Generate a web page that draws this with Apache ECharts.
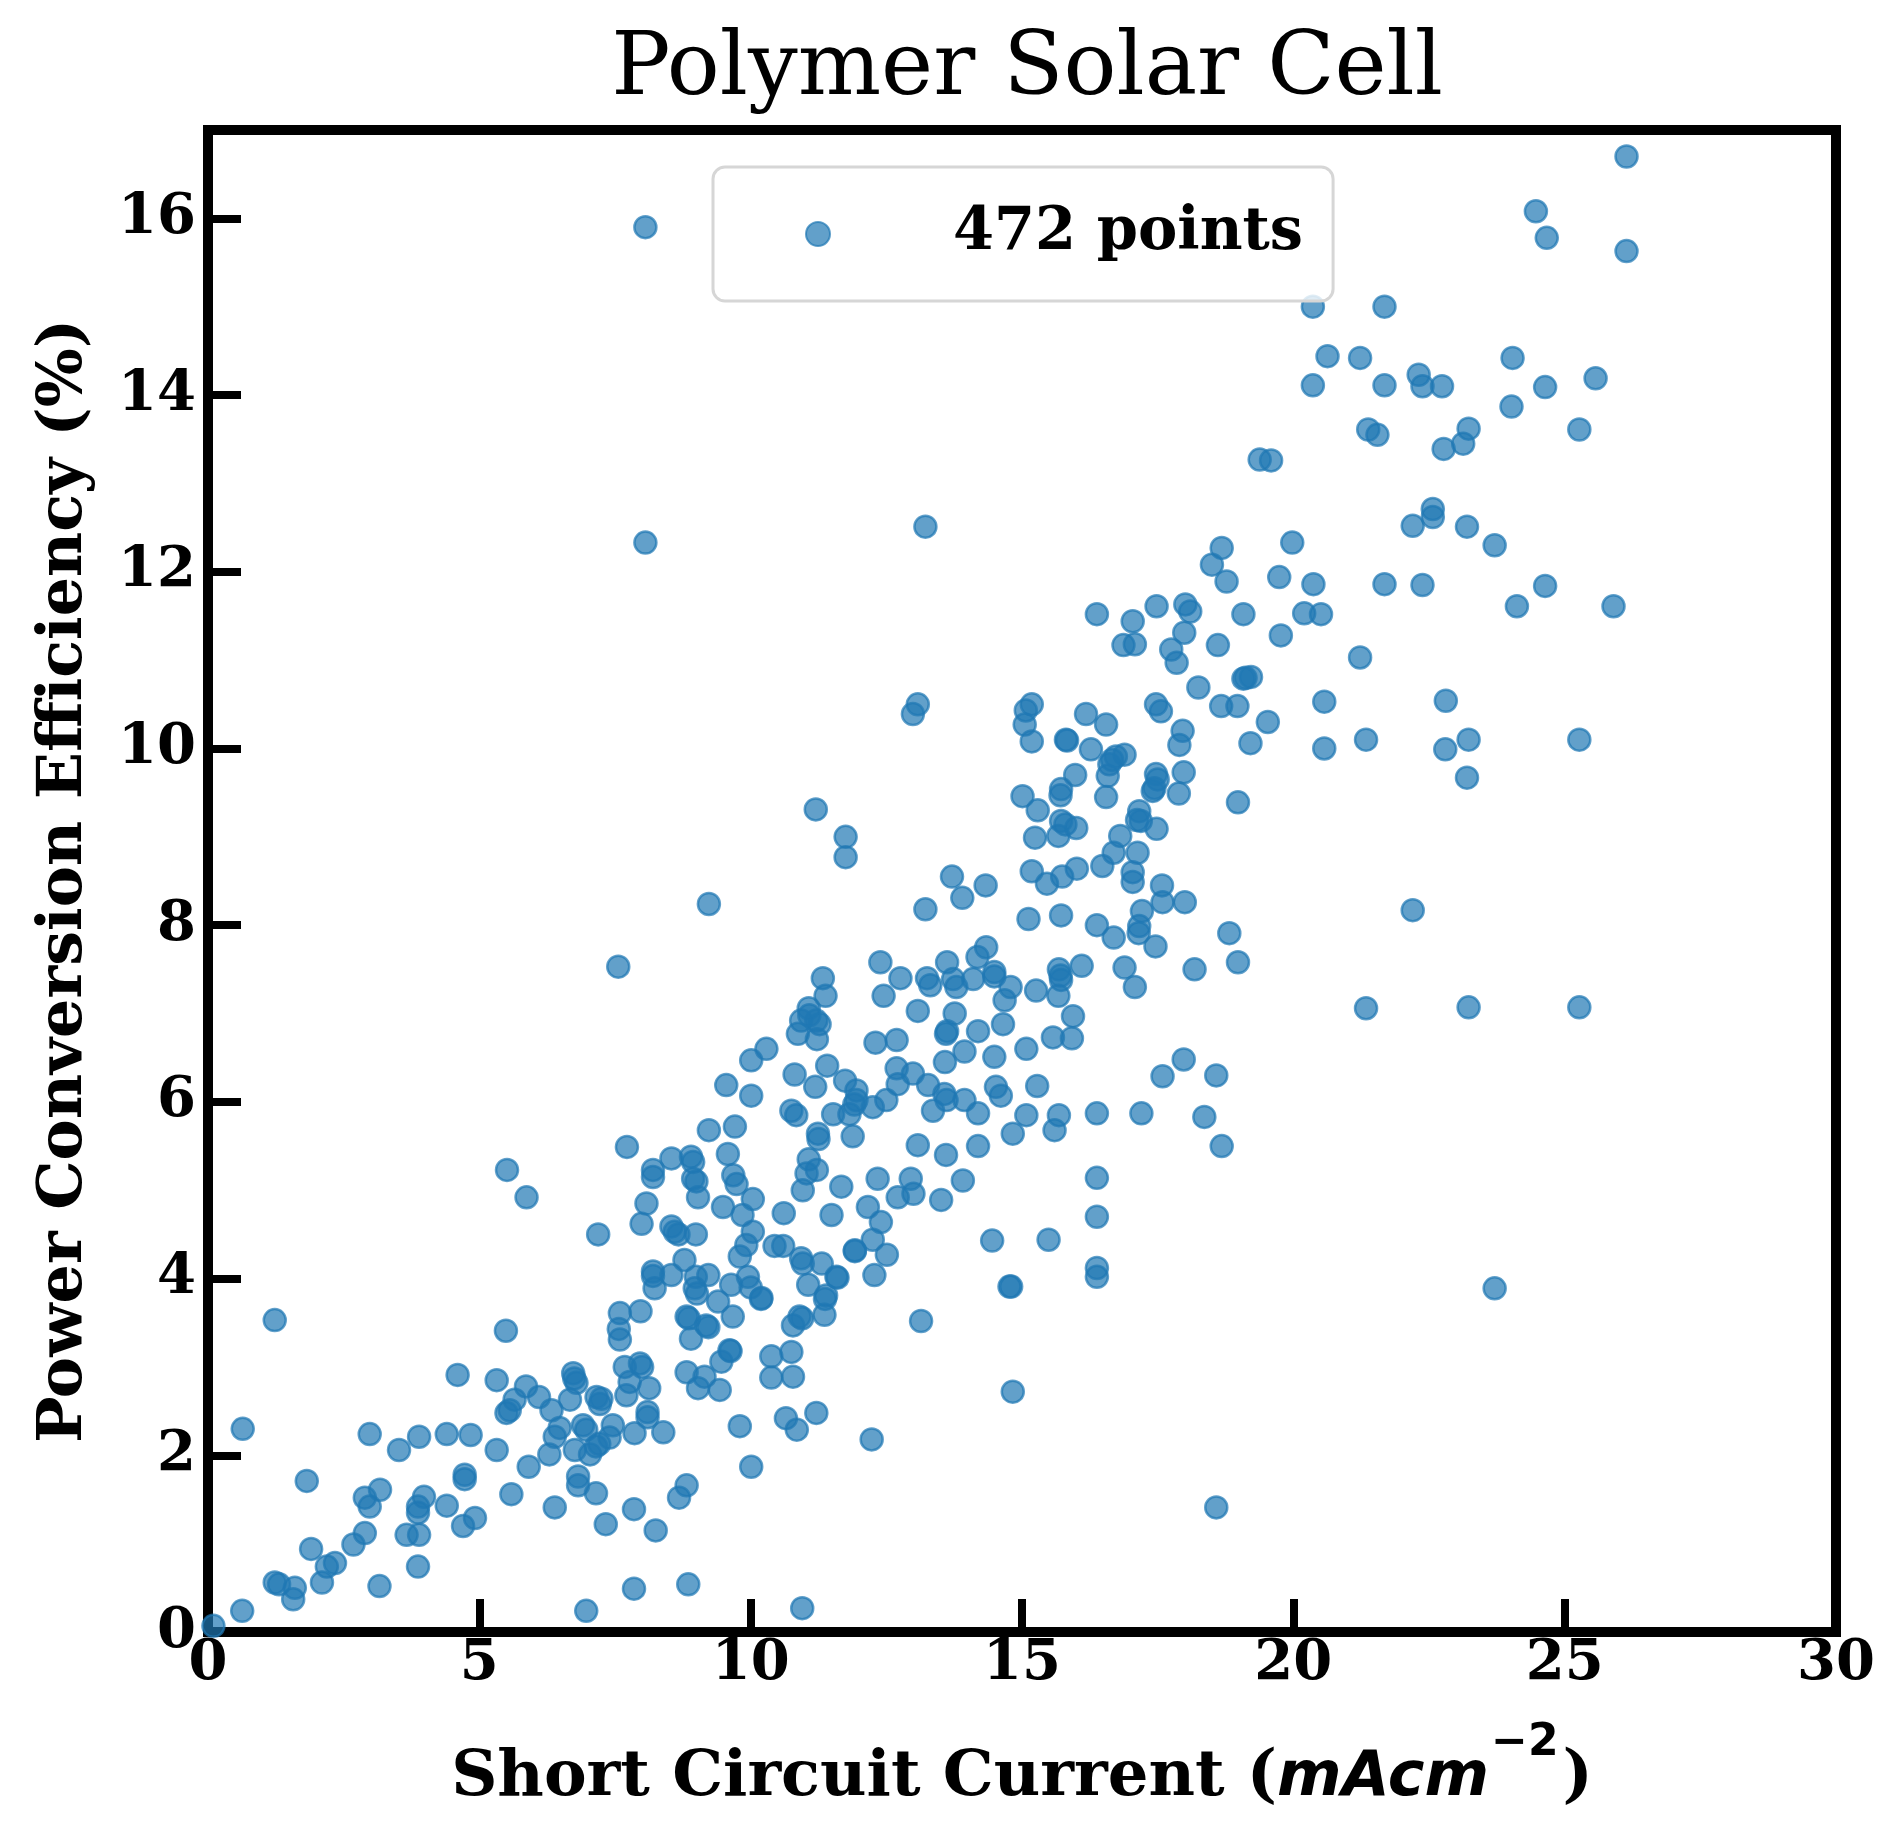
<!DOCTYPE html>
<html>
<head>
<meta charset="utf-8">
<title>Polymer Solar Cell</title>
<script src="https://cdn.jsdelivr.net/npm/echarts@6/dist/echarts.min.js"></script>
<style>
  html, body { margin: 0; padding: 0; background: #fff; }
  #chart { width: 1902px; height: 1845px; }
</style>
</head>
<body>
<div id="chart"></div>
<script>
// short circuit current (mA cm^-2)
const jscValues = [
  8.06, 8.06, 13.22,
  20.36, 21.68, 20.63, 21.23, 20.36, 21.68, 22.31, 22.38, 21.38, 21.55, 19.38, 19.59, 22.2,
  18.68, 18.5, 18.77, 19.98, 19.74, 20.37, 21.68, 22.38, 16.38, 17.04, 17.48, 18.01, 18.1, 19.08, 20.2, 20.51,
  26.14, 24.47, 24.67, 26.14, 24.04, 22.74, 24.64, 25.57, 24.02, 23.23, 23.13, 22.77, 25.27, 22.57, 22.57, 23.2, 23.71, 24.12, 24.64, 25.9,
  22.81, 23.23, 22.8, 23.2, 25.27, 23.23, 25.27,
  13.08, 12.99, 11.2, 11.75, 11.75, 9.23, 13.71, 13.9, 14.33, 13.22, 7.56, 11.33, 11.38, 11.07, 10.93, 11.21, 11.27, 10.87, 11.22, 11.08,
  12.39, 12.76, 12.45, 13.08, 13.25, 13.31, 13.62, 13.73, 13.79, 14.1, 14.18, 14.34, 14.49, 14.49, 14.68, 14.79, 13.76, 13.6, 13.62, 14.19,
  14.65, 12.3, 12.69, 13.94, 13.58, 14.49, 10.29, 10.01, 11.41, 10.81, 11.19, 9.55, 10.01, 11.74, 11.95, 11.95, 11.91, 12.25, 12.5, 12.69,
  12.71, 12.99, 13.27, 13.57, 13.61, 13.94, 13.36, 14.52, 14.61, 14.19, 10.75, 10.84, 11.52, 11.82,
  16.87, 17.08, 17.75, 17.85, 17.99, 18.61, 19.77, 21.23, 19.08, 19.22, 18.25, 18.67, 18.97, 19.53, 19.21, 20.57, 20.57, 21.34,
  15.18, 15.07, 15.05, 15.18, 16.18, 16.55, 15.81, 15.83, 16.27, 17.47, 17.56, 17.96, 17.9, 16.61, 16.73, 16.89, 16.58, 15.98, 15.72, 15.71,
  15.01, 15.29, 15.72, 15.8, 16.0, 15.67, 15.24, 16.55, 17.47, 17.5, 17.41, 17.98, 17.89, 17.16, 17.12, 17.19, 17.48, 16.81, 16.69, 17.13,
  16.48, 17.04, 17.04, 16.01, 15.74, 15.46, 15.18, 17.58, 17.59, 18.0, 17.21, 17.16, 17.15, 17.46, 16.38, 16.69, 15.72, 15.12, 18.82, 18.98,
  18.18, 16.89, 17.08, 16.1, 15.68, 15.71, 15.72, 15.67, 15.26, 15.94, 15.57, 15.92, 15.08, 15.28, 17.59, 17.98, 18.58, 18.98, 22.2, 21.34,
  15.08, 15.68, 16.38, 17.2, 18.36,
  7.72, 9.23, 9.71, 11.24, 11.25, 11.88, 13.08, 13.6, 14.19, 14.83, 8.2, 8.2, 8.54, 8.9, 8.94, 8.94, 9.0, 9.03, 9.58, 9.68,
  9.74, 10.04, 9.49, 9.85, 8.08, 7.99, 8.54, 8.6, 8.67, 8.99, 10.04, 9.92, 9.8, 10.61, 10.44, 10.6, 11.07, 11.22, 11.03, 10.96,
  11.67, 11.49, 12.34, 12.95, 12.71, 13.0, 13.51, 13.91, 12.16, 12.4, 12.25, 12.51, 11.92, 12.28, 14.45, 14.77, 13.14, 14.83, 12.23,
  8.2, 8.2, 8.23, 8.54, 8.78, 8.99, 9.22, 8.97, 9.01, 9.4, 9.64, 9.67, 9.95, 10.0, 10.2, 10.19, 10.93, 10.96, 11.31, 11.06,
  11.58, 11.6, 11.39, 11.37, 11.36, 10.9, 10.78, 10.95, 11.92,
  7.59, 7.97, 7.57, 7.59, 7.68, 7.96, 8.0, 7.77, 7.71, 8.13, 8.1, 8.1, 7.46, 7.4, 7.86, 8.39, 8.82, 9.03, 9.15, 9.43,
  9.46, 9.61, 9.63, 9.8, 10.01, 10.38, 10.75, 10.38, 10.78, 10.65, 10.85, 11.21, 8.82, 8.68, 7.85, 7.33, 8.25, 7.85, 8.85, 10.95,
  8.82, 8.86, 9.18, 9.22, 8.9,
  5.51, 5.87, 7.19, 1.23, 5.49, 4.6, 5.32, 5.86, 6.1, 5.65, 5.56, 5.5, 6.33, 6.73, 6.75, 6.79, 6.67, 7.16, 7.22, 7.25,
  6.91, 6.97, 6.48, 6.39, 6.29, 6.76, 7.04, 7.15, 7.21, 5.32, 5.91, 6.82, 6.82, 7.15, 5.59, 6.39, 6.97, 0.64, 2.98, 3.52,
  3.89, 4.4, 4.84, 1.82, 2.89, 2.98, 3.17, 3.98, 3.87, 3.87, 4.4, 4.73, 4.73, 4.92, 4.7, 3.66, 3.89, 2.89, 2.68, 1.9,
  2.34, 2.19, 2.1, 3.87, 3.16, 1.23, 1.31, 1.6, 1.57, 0.63, 0.1,
  18.68, 16.38, 16.38, 15.49, 16.38, 16.38, 18.58, 15.6, 23.71, 14.8, 19.12, 17.44, 16.66
];

// power conversion efficiency (%), same order
const pceValues = [
  15.9, 12.33, 12.51,
  15.0, 15.0, 14.44, 14.42, 14.11, 14.11, 14.23, 14.1, 13.61, 13.55, 13.27, 13.26, 12.52,
  12.27, 12.08, 11.89, 12.33, 11.94, 11.86, 11.86, 11.85, 11.52, 11.44, 11.61, 11.63, 11.55, 11.52, 11.53, 11.52,
  16.7, 16.08, 15.78, 15.63, 14.42, 14.1, 14.09, 14.19, 13.87, 13.62, 13.45, 13.39, 13.61, 12.71, 12.62, 12.51, 12.3, 11.61, 11.84, 11.61,
  10.54, 10.1, 9.99, 9.67, 10.1, 7.07, 7.07,
  10.5, 10.39, 9.31, 9.0, 8.77, 8.24, 8.55, 8.31, 8.45, 8.18, 7.53, 7.4, 7.2, 7.06, 6.92, 6.92, 6.88, 6.77, 6.71, 6.98,
  7.58, 7.4, 7.2, 7.03, 7.4, 7.32, 7.58, 7.39, 7.3, 7.39, 7.64, 7.75, 7.47, 7.42, 7.15, 7.3, 7.0, 6.77, 6.8, 6.8,
  6.88, 6.67, 6.7, 6.57, 6.45, 6.51, 6.6, 6.47, 6.41, 6.31, 6.17, 6.19, 6.07, 6.24, 6.13, 6.02, 5.97, 5.94, 6.02, 6.38,
  6.2, 6.32, 6.19, 6.09, 6.02, 6.02, 5.9, 6.17, 6.07, 5.87, 5.9, 5.85, 5.86, 5.86,
  11.17, 11.18, 11.12, 10.97, 11.31, 11.17, 11.28, 11.03, 10.79, 10.81, 10.69, 10.48, 10.48, 10.3, 10.06, 10.53, 10.0, 10.1,
  10.5, 10.43, 10.27, 10.08, 10.39, 10.27, 10.1, 10.09, 9.99, 10.5, 10.42, 10.2, 10.04, 9.82, 9.91, 9.93, 9.69, 9.7, 9.54, 9.47,
  9.46, 9.3, 9.18, 9.14, 9.1, 9.01, 8.99, 9.45, 9.71, 9.65, 9.52, 9.73, 9.49, 9.29, 9.19, 9.18, 9.09, 9.01, 8.82, 8.82,
  8.67, 8.6, 8.49, 8.64, 8.55, 8.47, 8.61, 8.45, 8.26, 8.26, 8.16, 7.99, 7.91, 7.76, 8.0, 7.86, 8.11, 8.07, 7.91, 7.58,
  7.5, 7.52, 7.3, 7.54, 7.5, 7.43, 7.38, 7.2, 7.26, 6.97, 6.73, 6.72, 6.6, 6.18, 6.29, 6.48, 6.3, 9.39, 8.17, 7.06,
  5.85, 5.85, 5.87, 5.87, 5.83,
  5.49, 5.68, 5.72, 5.64, 5.58, 5.61, 5.51, 5.4, 5.5, 5.64, 5.23, 5.15, 5.36, 5.38, 5.32, 5.13, 5.1, 4.92, 5.41, 5.17,
  5.07, 4.9, 4.81, 4.72, 4.85, 4.62, 4.59, 4.53, 4.5, 4.5, 4.53, 4.38, 4.25, 4.74, 4.37, 4.37, 5.35, 5.23, 5.19, 5.0,
  5.04, 4.72, 5.13, 5.13, 4.92, 4.96, 4.89, 5.11, 4.81, 4.64, 4.44, 4.27, 4.32, 4.04, 4.43, 3.91, 3.52, 2.72, 2.18,
  4.08, 4.03, 3.89, 4.04, 4.21, 4.02, 4.04, 3.89, 3.83, 3.74, 3.93, 3.57, 4.02, 3.9, 3.78, 3.77, 4.23, 4.17, 4.17, 3.93,
  4.02, 4.01, 3.81, 3.77, 3.59, 3.57, 3.47, 3.55, 4.31,
  3.61, 3.63, 3.43, 3.31, 3.0, 3.04, 3.0, 2.83, 2.68, 2.76, 2.49, 2.43, 2.34, 2.2, 2.25, 2.26, 2.94, 2.76, 2.89, 2.74,
  3.06, 3.19, 3.18, 2.33, 1.87, 3.12, 3.17, 2.88, 2.89, 2.42, 2.29, 2.48, 1.66, 1.52, 1.39, 1.22, 1.15, 0.49, 0.54, 0.27,
  3.57, 3.55, 3.47, 3.45, 3.32,
  5.23, 4.92, 4.5, 3.53, 3.41, 2.91, 2.85, 2.78, 2.66, 2.63, 2.51, 2.48, 2.51, 2.93, 2.87, 2.82, 2.63, 2.66, 2.58, 2.64,
  2.34, 2.29, 2.31, 2.21, 2.01, 2.06, 2.01, 2.1, 2.13, 2.06, 1.87, 1.76, 1.66, 1.57, 1.56, 1.41, 0.24, 2.3, 2.24, 2.06,
  2.21, 2.24, 2.23, 1.71, 1.52, 1.42, 1.61, 1.53, 1.42, 1.35, 1.43, 1.78, 1.73, 1.29, 1.2, 1.1, 1.1, 1.12, 0.99, 0.94,
  0.78, 0.74, 0.56, 0.74, 0.52, 0.56, 0.54, 0.5, 0.37, 0.24, 0.07,
  5.5, 5.14, 4.7, 4.44, 4.12, 4.02, 1.41, 5.68, 3.89, 3.91, 10.8, 9.55, 9.87
];

const xTicks = { min: 0, max: 30, step: 5 };
const yTicks = { min: 0, max: 17, step: 2 };
const seriesName = '472 points';

const points = jscValues.map((x, i) => [x, pceValues[i]]);

const serif = '"Palatino Linotype", Palatino, "DejaVu Serif", serif';
const blue = '#1f77b4';

const chart = echarts.init(document.getElementById('chart'), null, { renderer: 'canvas' });

chart.setOption({
  backgroundColor: '#fff',
  animation: false,
  title: {
    text: 'Polymer Solar Cell',
    left: 1022,
    top: 22,
    textAlign: 'center',
    textStyle: {
      fontFamily: serif,
      fontWeight: 'normal',
      fontSize: 88,
      color: '#000',
    },
  },
  legend: {
    left: 713,
    top: 167,
    padding: [36, 30, 36, 92],
    itemWidth: 24,
    itemHeight: 24,
    icon: 'circle',
    backgroundColor: 'rgba(255,255,255,0.8)',
    borderColor: '#d6d6d6',
    borderWidth: 3,
    borderRadius: 12,
    textStyle: {
      fontFamily: serif,
      fontWeight: 'bold',
      fontSize: 59,
      lineHeight: 62,
      color: '#000',
      padding: [0, 0, 0, 118],
    },
    data: [seriesName],
  },
  grid: {
    left: 208,
    right: 66,
    top: 130,
    bottom: 213,
    show: true,
    borderColor: '#000',
    borderWidth: 10,
    backgroundColor: 'transparent',
  },
  xAxis: {
    type: 'value',
    min: xTicks.min,
    max: xTicks.max,
    interval: xTicks.step,
    splitLine: { show: false },
    axisLine: { show: false },
    axisTick: {
      show: true,
      inside: true,
      length: 33,
      lineStyle: { color: '#000', width: 8 },
    },
    axisLabel: {
      margin: 4,
      fontFamily: serif,
      fontWeight: 'bold',
      fontSize: 56,
      color: '#000',
    },
    name: '{a|Short Circuit Current (}{b|mAcm}{c|−2}{a|)}',
    nameLocation: 'middle',
    nameGap: 90,
    nameTextStyle: {
      rich: {
        a: { fontFamily: serif, fontWeight: 'bold', fontSize: 64, color: '#000', lineHeight: 88, verticalAlign: 'bottom' },
        b: { fontFamily: '"DejaVu Sans", sans-serif', fontStyle: 'italic', fontWeight: 'bold', fontSize: 62, color: '#000', lineHeight: 88, verticalAlign: 'bottom' },
        c: { fontFamily: '"DejaVu Sans", sans-serif', fontWeight: 'bold', fontSize: 44, color: '#000', lineHeight: 88, verticalAlign: 'top', padding: [0, 4, 0, 2] },
      },
    },
  },
  yAxis: {
    type: 'value',
    min: yTicks.min,
    max: yTicks.max,
    interval: yTicks.step,
    splitLine: { show: false },
    axisLine: { show: false },
    axisTick: {
      show: true,
      inside: true,
      length: 33,
      lineStyle: { color: '#000', width: 8 },
    },
    axisLabel: {
      margin: 12,
      showMaxLabel: false,
      fontFamily: serif,
      fontWeight: 'bold',
      fontSize: 56,
      color: '#000',
    },
    name: 'Power Conversion Efficiency (%)',
    nameLocation: 'middle',
    nameGap: 112,
    nameTextStyle: {
      fontFamily: serif,
      fontWeight: 'bold',
      fontSize: 62,
      color: '#000',
    },
  },
  series: [
    {
      name: seriesName,
      type: 'scatter',
      symbol: 'circle',
      symbolSize: 22,
      data: points,
      itemStyle: {
        color: blue,
        opacity: 0.7,
        borderColor: blue,
        borderWidth: 2.5,
      },
      emphasis: { disabled: true },
    },
  ],
});
</script>
</body>
</html>
